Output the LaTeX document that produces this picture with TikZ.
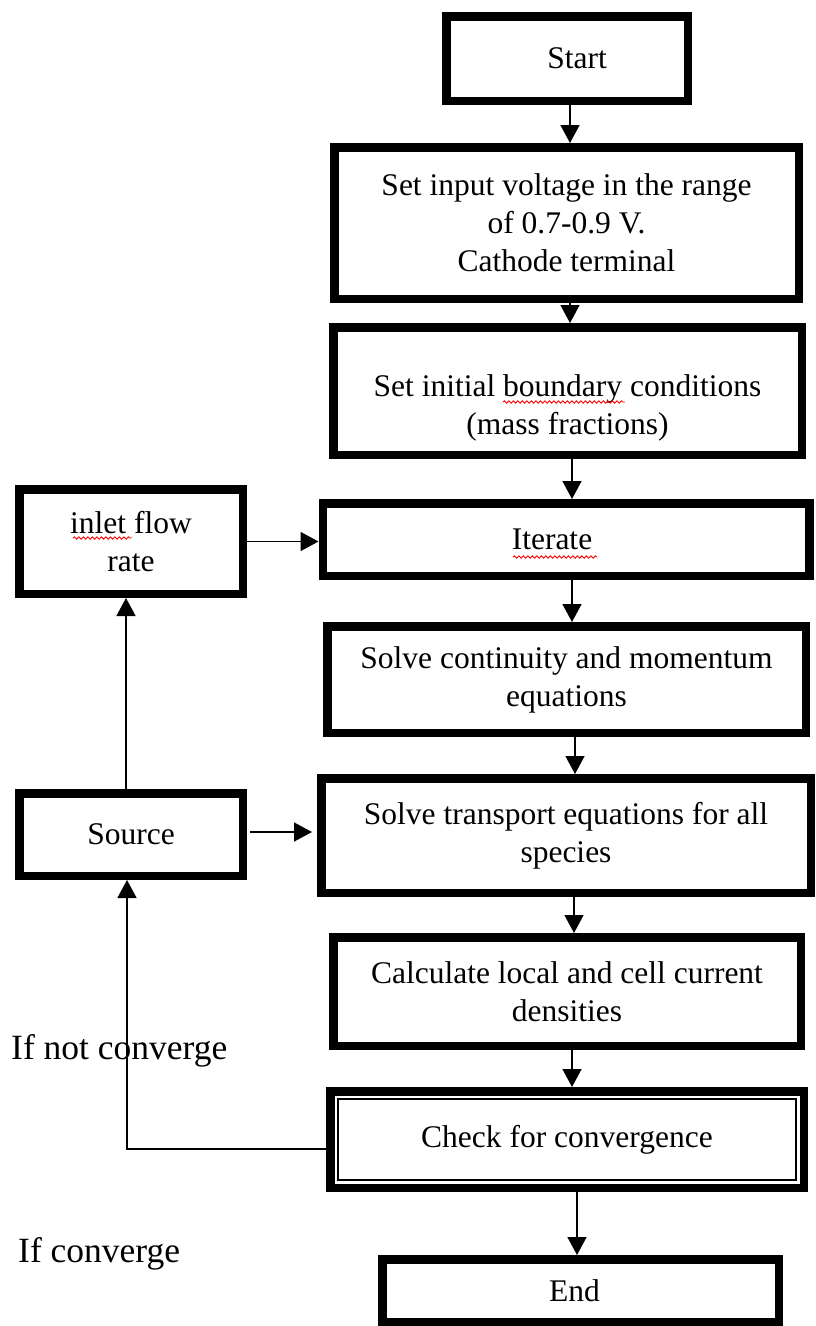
\documentclass[tikz,border=0pt]{standalone}
\usepackage{fontspec}
\setmainfont{Liberation Serif}
\usetikzlibrary{arrows.meta,decorations.pathmorphing}

\begin{document}
\begin{tikzpicture}[x=1pt, y=-1pt, main/.style = {draw, line width=8.5pt, inner sep=0pt, align=center, font=\fontsize{31.5}{38}\selectfont}, note/.style = {anchor=base west, inner sep=0pt, font=\fontsize{35.5}{42}\selectfont}, arr/.style = {line width=1.5pt, -{Triangle[width=19pt,length=18pt]}}, squig/.style = {red, line width=0.9pt, decorate, decoration={snake, segment length=4.5pt, amplitude=1.2pt}}]
		\useasboundingbox (0,0) rectangle (816,1326);
		\node[main, minimum width=241.5pt, minimum height=84.5pt] (1) at (567,58.5) {\hspace*{20pt}Start};
		\node[main, minimum width=464.5pt, minimum height=151.5pt] (2) at (566.5,223) {Set input voltage in the range\\of 0.7-0.9 V.\\Cathode terminal};
		\node[main, minimum width=468.5pt, minimum height=127.5pt] (3) at (567.5,391) {\rule{0pt}{56pt}Set initial boundary conditions\\(mass fractions)};
		\node[main, minimum width=486.5pt, minimum height=72.5pt] (4) at (566,539.5) {Iterate\hspace*{28pt}};
		\node[main, minimum width=478.5pt, minimum height=106.5pt] (5) at (566.5,679.5) {Solve continuity and momentum\\equations};
		\node[main, minimum width=489.5pt, minimum height=114.5pt] (6) at (566,835.5) {Solve transport equations for all\\species};
		\node[main, minimum width=467.5pt, minimum height=108.5pt] (7) at (567,991.5) {Calculate local and cell current\\densities};
		\node[main, minimum width=473.5pt, minimum height=96.5pt] (8) at (567,1139.5) {Check for convergence};
		\node[main, minimum width=396.5pt, minimum height=62.5pt] (9) at (580.5,1290.5) {End\hspace*{12pt}};
		\node[main, minimum width=223.5pt, minimum height=104.5pt] (10) at (131,541.5) {inlet flow\\rate};
		\node[main, minimum width=223.5pt, minimum height=82.5pt] (11) at (131,834.5) {Source};
		\node[note] (12) at (11,1059) {If not converge};
		\node[note] (13) at (18,1262) {If converge};
		\draw[line width=1.5pt] ([shift={(12pt,-12pt)}]8.north west) rectangle ([shift={(-12pt,12pt)}]8.south east);
		\draw[arr] ([xshift=3pt]1.south) -- ([xshift=3pt]1.south |- 2.north);
		\draw[arr] ([xshift=3.5pt]2.south) -- ([xshift=3.5pt]2.south |- 3.north);
		\draw[arr] ([xshift=4.5pt]3.south) -- ([xshift=4.5pt]3.south |- 4.north);
		\draw[arr] ([xshift=6pt]4.south) -- ([xshift=6pt]4.south |- 5.north);
		\draw[arr] ([xshift=8.5pt]5.south) -- ([xshift=8.5pt]5.south |- 6.north);
		\draw[arr] ([xshift=8pt]6.south) -- ([xshift=8pt]6.south |- 7.north);
		\draw[arr] ([xshift=5pt]7.south) -- ([xshift=5pt]7.south |- 8.north);
		\draw[arr] ([xshift=10pt]8.south) -- ([xshift=10pt]8.south |- 9.north);
		\draw[arr] (10.east) -- (10.east -| 4.west);
		\draw[arr] ([shift={(3pt,2.5pt)}]11.east) -- ([shift={(-5pt,2.5pt)}]11.east -| 6.west);
		\draw[arr] ([xshift=-5pt]11.north) -- ([xshift=-5pt]10.south);
		\draw[arr] ([yshift=-9.5pt]8.west) -| ([xshift=-4pt]11.south);
		\draw[squig] (503,402) -- (625,402);
		\draw[squig] (513,557) -- (597,557);
		\draw[squig] (73,538) -- (132,538);
	\end{tikzpicture}
\end{document}
